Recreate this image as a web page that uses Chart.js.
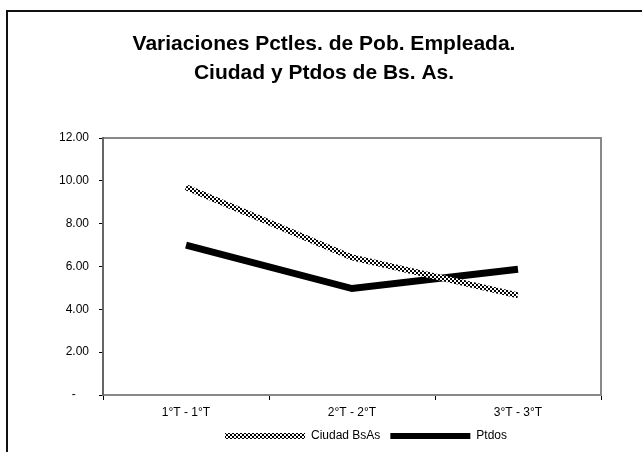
<!DOCTYPE html>
<html>
<head>
<meta charset="utf-8">
<script src="https://cdn.jsdelivr.net/npm/chart.js@4.4.0/dist/chart.umd.min.js"></script>
<style>
  html, body { margin: 0; padding: 0; background: #fff; }
  canvas { display: block; }
</style>
</head>
<body>
<canvas id="grafica" width="642" height="452"></canvas>
<script>
const periodos = ['1°T - 1°T', '2°T - 2°T', '3°T - 3°T'];
const ciudadBsAs = [9.7, 6.42, 4.65];
const ptdos = [7.0, 4.97, 5.87];
const titulo = ['Variaciones Pctles. de Pob. Empleada.', 'Ciudad y Ptdos de Bs. As.'];

Chart.defaults.font.family = 'Arial, "Liberation Sans", sans-serif';
Chart.defaults.color = '#000';

const canvas = document.getElementById('grafica');
const ctx = canvas.getContext('2d');

// trama cuadriculada para la serie de la Ciudad
const pc = document.createElement('canvas');
pc.width = 4; pc.height = 4;
const pctx = pc.getContext('2d');
pctx.fillStyle = '#fff';
pctx.fillRect(0, 0, 4, 4);
pctx.fillStyle = '#000';
pctx.fillRect(0, 0, 2, 2);
pctx.fillRect(2, 2, 2, 2);
const trama = ctx.createPattern(pc, 'repeat');

// marco exterior y borde del area de trazado
const marco = {
    id: 'marco',
    beforeDraw(chart) {
        const c = chart.ctx;
        c.save();
        c.fillStyle = '#fff';
        c.fillRect(0, 0, chart.width, chart.height);
        c.strokeStyle = '#111';
        c.lineWidth = 2;
        c.beginPath();
        c.moveTo(7, chart.height + 5);
        c.lineTo(7, 11);
        c.lineTo(chart.width + 5, 11);
        c.stroke();
        const a = chart.chartArea;
        c.strokeStyle = '#888';
        c.beginPath();
        c.moveTo(a.left, a.top);
        c.lineTo(a.right, a.top);
        c.lineTo(a.right, a.bottom);
        c.stroke();
        c.restore();
    },
    afterLayout(chart) {
        chart.legend.left += 42;
        chart.legend.right += 42;
    }
};

new Chart(ctx, {
    type: 'line',
    data: {
        labels: periodos,
        datasets: [{
            label: 'Ciudad BsAs',
            data: ciudadBsAs,
            borderColor: trama,
            backgroundColor: trama,
            borderWidth: 6,
            pointRadius: 0,
            borderCapStyle: 'butt',
            tension: 0
        }, {
            label: 'Ptdos',
            data: ptdos,
            borderColor: '#000',
            backgroundColor: '#000',
            borderWidth: 7,
            pointRadius: 0,
            borderCapStyle: 'butt',
            tension: 0
        }]
    },
    options: {
        responsive: false,
        animation: false,
        layout: { padding: { left: 6, top: 0, right: 0, bottom: 0 } },
        plugins: {
            title: {
                display: true,
                text: titulo,
                font: { size: 21, weight: 'bold', lineHeight: '29px' },
                padding: { top: 30, bottom: 50 }
            },
            legend: {
                display: true,
                position: 'bottom',
                labels: {
                    boxWidth: 80,
                    boxHeight: 6,
                    padding: 10,
                    font: { size: 12 },
                    generateLabels(chart) {
                        return chart.data.datasets.map((ds, i) => ({
                            text: ds.label,
                            fillStyle: ds.backgroundColor,
                            strokeStyle: ds.backgroundColor,
                            lineWidth: 0,
                            datasetIndex: i,
                            fontColor: '#000'
                        }));
                    }
                }
            },
            tooltip: { enabled: false }
        },
        scales: {
            x: {
                offset: true,
                grid: { offset: true, drawOnChartArea: false, tickLength: 5, color: '#000' },
                border: { color: '#888', width: 2 },
                ticks: { padding: 5, font: { size: 12 } },
                afterFit(scale) { scale.height = 25; }
            },
            y: {
                min: 0,
                max: 12,
                grid: { drawOnChartArea: false, tickLength: 4, color: '#000' },
                border: { color: '#666', width: 2 },
                ticks: {
                    stepSize: 2,
                    padding: 10,
                    font: { size: 12 },
                    callback: (v) => v === 0 ? '-    ' : v.toFixed(2)
                },
                afterFit(scale) { scale.width = 97; }
            },
            y2: {
                position: 'right',
                display: true,
                grid: { display: false },
                border: { display: false },
                ticks: { display: false },
                afterFit(scale) { scale.width = 41; }
            }
        }
    },
    plugins: [marco]
});
</script>
</body>
</html>
